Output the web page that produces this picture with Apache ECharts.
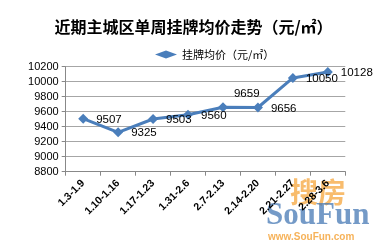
<!DOCTYPE html>
<html><head><meta charset="utf-8">
<script src="https://cdn.jsdelivr.net/npm/echarts@6/dist/echarts.min.js"></script>
<style>html,body{margin:0;padding:0;background:#fff}#c{width:387px;height:250px}</style>
</head><body><div id="c"></div>
<script>
const categories = ['1.3-1.9','1.10-1.16','1.17-1.23','1.31-2.6','2.7-2.13','2.14-2.20','2.21-2.27','2.28-3.6'];
const prices = [9507, 9325, 9503, 9560, 9659, 9656, 10050, 10128];
const seriesName = '挂牌均价（元/㎡）';
const titleText = '近期主城区单周挂牌均价走势（元/㎡）';

const chart = echarts.init(document.getElementById('c'), null, {renderer:'canvas'});
const blue = '#4a7ebb';
chart.setOption({
  animation:false,
  title:{text:titleText,left:'center',top:14,textStyle:{fontSize:16,fontWeight:'bold',color:'#000',fontFamily:'Noto Sans CJK SC'}},
  legend:{top:44,left:150,itemWidth:22,itemHeight:8,itemGap:5,
    textStyle:{fontSize:11,color:'#000',fontFamily:'Noto Sans CJK SC'},
    data:[{name:seriesName,icon:'diamond'}]},
  grid:{left:65.7,right:387-345.3,top:66.7,bottom:250-171.7,containLabel:false},
  xAxis:{type:'category',data:categories,boundaryGap:true,
    axisLine:{lineStyle:{color:'#888'}},
    axisTick:{show:true,length:4,lineStyle:{color:'#888'}},
    axisLabel:{rotate:45,fontSize:10.5,fontWeight:'bold',color:'#000',margin:10,fontFamily:'Liberation Sans',interval:0}},
  yAxis:{type:'value',min:8800,max:10200,interval:200,
    axisLine:{show:true,lineStyle:{color:'#888'}},
    axisTick:{show:true,length:4,lineStyle:{color:'#888'}},
    splitLine:{lineStyle:{color:'#a6a6a6',width:1}},
    axisLabel:{fontSize:11,color:'#000',margin:7,fontFamily:'Liberation Sans',formatter:v=>String(v)}},
  series:[{name:seriesName,type:'line',data:prices.map((v,i)=>{
      const it={value:v};
      if(i===4) it.label={position:'right',offset:[-2,-13]};
      return it;}),
    symbol:'diamond',symbolSize:10,
    lineStyle:{color:blue,width:3},itemStyle:{color:blue},
    label:{show:true,position:'right',distance:8,offset:[0,1],fontSize:11.5,color:'#000',fontFamily:'Liberation Sans'}}],
  graphic:[
    {type:'text',left:290,top:178,style:{text:'搜房',fontSize:28,fontWeight:'bold',fill:'rgba(245,165,60,0.75)',fontFamily:'Noto Sans CJK SC'},z:-1},
    {type:'text',left:266,top:200,style:{text:'SouFun',fontSize:31,fontWeight:'bold',fill:'rgba(70,120,180,0.75)',fontFamily:'Liberation Serif'},z:-1},
    {type:'text',left:268,top:232,style:{text:'www.SouFun.com',fontSize:10,fontWeight:'bold',fill:'rgba(245,165,60,0.85)',fontFamily:'Liberation Sans'},z:-1}
  ]
});
</script></body></html>
